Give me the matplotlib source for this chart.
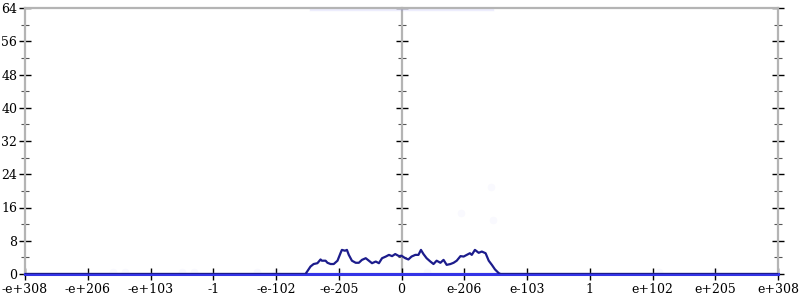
import matplotlib
matplotlib.use("Agg")
import matplotlib.pyplot as plt
from matplotlib.ticker import MultipleLocator, FixedLocator
import numpy as np

# x axis positions are tick slots: -6 .. 6
tick_labels = ["-e+308", "-e+206", "-e+103", "-1", "-e-102", "-e-205", "0",
               "e-206", "e-103", "1", "e+102", "e+205", "e+308"]
tick_pos = list(range(-6, 7))

# curva principal (azul oscuro)
curve_x = [-6.0, -1.53, -1.45, -1.40, -1.34, -1.29, -1.27, -1.21, -1.18, -1.13, -1.08,
           -1.02, -0.97, -0.95, -0.90, -0.87, -0.84, -0.79, -0.73, -0.68, -0.63,
           -0.57, -0.52, -0.47, -0.41, -0.36, -0.31, -0.25, -0.20, -0.15, -0.10,
           -0.04, 0.00, 0.06, 0.11, 0.16, 0.22, 0.27, 0.31, 0.35, 0.40, 0.46,
           0.51, 0.56, 0.62, 0.67, 0.72, 0.78, 0.83, 0.88, 0.94, 0.99, 1.04,
           1.09, 1.12, 1.17, 1.23, 1.28, 1.34, 1.39, 1.44, 1.49, 1.55, 1.58, 6.0]
curve_y = [0.0, 0.0, 1.8, 2.4, 2.6, 3.5, 3.2, 3.2, 2.7, 2.4, 2.4,
           3.2, 5.1, 5.8, 5.6, 5.8, 4.6, 3.2, 2.7, 2.7, 3.4,
           3.8, 3.2, 2.6, 3.0, 2.6, 3.8, 4.2, 4.6, 4.3, 4.8,
           4.3, 4.4, 3.8, 3.5, 4.2, 4.6, 4.6, 5.8, 4.8, 3.8, 3.0,
           2.4, 3.2, 2.7, 3.4, 2.2, 2.4, 2.7, 3.2, 4.3, 4.2, 4.6,
           5.0, 4.6, 5.8, 5.1, 5.4, 5.0, 3.2, 2.2, 1.1, 0.2, 0.0, 0.0]

# linea base (azul claro)
base_x = [-6.0, 6.0]
base_y = [0.0, 0.0]

# franja tenue arriba
top_x = [-1.45, 1.45]
top_y = [63.8, 63.8]

# puntos casi invisibles
faint_x = [0.95, 1.43, 1.46, -4.6, -4.4, -3.5, -3.3, -2.3, -2.0, -1.0, 0.4, 4.1, 5.0]
faint_y = [14.7, 20.9, 13.0, 0.5, 0.5, 0.5, 0.5, 0.5, 0.5, 0.5, 0.5, 0.5, 0.5]

plt.rcParams['font.family'] = ['DejaVu Serif']

fig = plt.figure(figsize=(8, 3), dpi=100)
ax = fig.add_axes([25 / 800, 26 / 300, 753 / 800, 266 / 300])

ax.set_xlim(-6, 6)
ax.set_ylim(0, 64)

spine_col = "#b4b4b4"
for s in ax.spines.values():
    s.set_color(spine_col)
    s.set_linewidth(1.6)

# eje central
axc = ax.twinx()
axc.set_ylim(0, 64)
axc.spines["left"].set_position(("data", 0))
axc.spines["left"].set_color(spine_col)
axc.spines["left"].set_linewidth(1.6)
for k in ["right", "top", "bottom"]:
    axc.spines[k].set_visible(False)
axc.yaxis.set_ticks_position("left")
axc.yaxis.set_major_locator(MultipleLocator(8))
axc.yaxis.set_minor_locator(MultipleLocator(4))
axc.tick_params(axis="y", which="major", direction="inout", length=9, width=1.0,
                color="black", labelleft=False, labelright=False)
axc.tick_params(axis="y", which="minor", direction="inout", length=6, width=0.8,
                color="#555555")
axc.set_zorder(1)
ax.set_zorder(2)
ax.patch.set_visible(False)

ax.plot(top_x, top_y, color="#7070f0", lw=2.5, alpha=0.12, zorder=2)
ax.scatter(faint_x, faint_y, s=30, color="#6a6af0", alpha=0.04, lw=0, zorder=2)
ax.plot(base_x, base_y, color="#3434e6", lw=2.2, zorder=4, clip_on=False)
ax.plot(curve_x, curve_y, color="#1c1c8c", lw=1.6, zorder=5)

ax.xaxis.set_major_locator(FixedLocator(tick_pos))
ax.set_xticklabels(tick_labels)
ax.yaxis.set_major_locator(MultipleLocator(8))
ax.yaxis.set_minor_locator(MultipleLocator(4))

ax.yaxis.set_ticks_position("both")
ax.tick_params(axis="both", which="major", direction="inout", length=9, width=1.0,
               color="black", labelsize=9, pad=1)
ax.tick_params(axis="y", which="both", left=True, right=True, labelleft=True,
               labelright=False)
ax.tick_params(axis="y", which="minor", direction="inout", length=6, width=0.8,
               color="#555555")
ax.tick_params(axis="x", pad=2)

fig.savefig("out.png", dpi=100)
